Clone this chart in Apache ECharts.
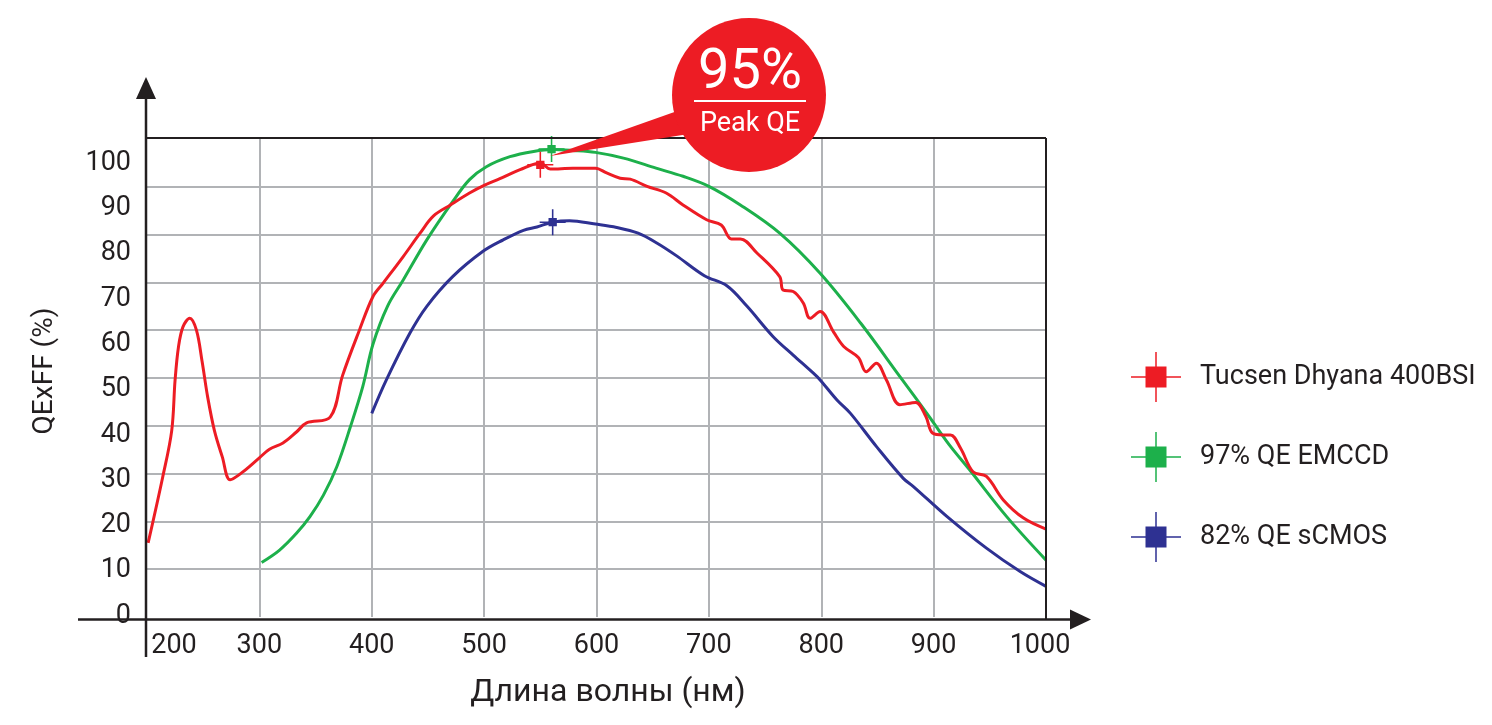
<!DOCTYPE html>
<html>
<head>
<meta charset="utf-8">
<script src="https://cdn.jsdelivr.net/npm/echarts@6/dist/echarts.min.js"></script>
<style>
  html, body { margin: 0; padding: 0; background: #fff; }
  #main { width: 1492px; height: 725px; }
</style>
</head>
<body>
<div id="main"></div>
<script>
// wavelength (nm) / QExFF (%)
var tucsenWl = [201, 214, 222, 225, 228, 232, 238, 244, 249, 254, 260, 267, 274, 285, 300, 309, 321, 333, 342, 363,
  374, 389, 401, 410, 428, 443, 455, 470, 487, 500, 514, 532, 550, 559, 579, 599, 609, 621, 630, 645,
  662, 677, 698, 711, 720, 728, 743, 763, 766, 775, 784, 790, 799, 811, 820, 833, 840, 849, 858, 870,
  884, 893, 899, 909, 915, 924, 935, 947, 962, 980, 1000];
var tucsenQe = [15.5, 29.3, 39, 49.6, 56.5, 60.7, 62.5, 60, 53.5, 46, 39, 33.5, 28.7, 30.3, 33.3, 35.1, 36.4, 38.7, 40.6, 41.8,
  50.5, 60, 67, 69.8, 75.4, 80.3, 83.9, 86.2, 88.7, 90.3, 91.7, 93.6, 95, 93.7, 93.9, 93.9, 92.9, 91.8, 91.6, 90.1,
  88.7, 86.2, 83.1, 82, 79.1, 79.1, 76.1, 71.2, 68.4, 68.1, 65.7, 62.5, 63.9, 59.6, 56.6, 54.3, 51.3, 53.1, 49.6, 44.4,
  44.9, 42, 38.5, 38.1, 38.1, 35.3, 30.4, 29.4, 24.5, 20.7, 18.4];

var emccdWl = [302, 318, 333, 345, 357, 369, 381, 392, 401, 414, 428, 449, 472, 487, 502, 523, 544, 561, 579, 599, 624,
  653, 677, 700, 728, 763, 799, 835, 870, 894, 900, 915, 932, 965, 1000];
var emccdQe = [11.4, 14, 17.5, 21, 25.5, 31.5, 39.8, 48.2, 57, 65, 70.5, 78.9, 86.9, 91.5, 94.2, 96.3, 97.4, 97.8, 97.6, 97.2, 96,
  93.9, 92.2, 90.1, 86.2, 80.3, 71.9, 61.5, 50.3, 42.6, 40.6, 35.7, 30.8, 21, 11.9];

var scmosWl = [400, 413, 434, 449, 472, 499, 517, 535, 547, 561, 576, 599, 618, 637, 654, 671, 696, 716, 734, 757,
  775, 793, 799, 814, 826, 849, 873, 882, 912, 947, 977, 1000];
var scmosQe = [42.6, 49.6, 59.4, 65, 71.2, 76.5, 78.9, 80.9, 81.6, 82.6, 82.9, 82.2, 81.5, 80.3, 78.2, 75.6, 71.4, 69.3, 65, 58.7,
  54.8, 51, 49.6, 45.4, 42.6, 35.7, 29, 27.3, 21, 14.4, 9.5, 6.4];

var seriesNames = ['Tucsen Dhyana 400BSI', '97% QE EMCCD', '82% QE sCMOS'];
var seriesColors = ['#ed1c24', '#1db04b', '#2e3192'];
var peakWl = [550, 560, 561];
var peakQe = [94.6, 97.9, 82.6];

var xTicks = [200, 300, 400, 500, 600, 700, 800, 900, 1000];
var yTicks = [0, 10, 20, 30, 40, 50, 60, 70, 80, 90, 100];

function zip(a, b) {
  return a.map(function (v, i) { return [v, b[i]]; });
}

var ink = '#231f20';
var font = 'Roboto, "DejaVu Sans", sans-serif';
var legendIcon = 'path://M0 48.5H100V51.5H0Z M48.5 0H51.5V100H48.5Z M29 29H71V71H29Z';
var peakIcon = 'path://M0 47H100V53H0Z M47 0H53V100H47Z M34 34H66V66H34Z';

var lineData = [zip(tucsenWl, tucsenQe), zip(emccdWl, emccdQe), zip(scmosWl, scmosQe)];

var chart = echarts.init(document.getElementById('main'));

chart.setOption({
  animation: false,
  backgroundColor: '#fff',
  grid: { left: 147, top: 139, width: 899, height: 478 },
  legend: {
    orient: 'vertical',
    left: 1126,
    top: 347,
    itemWidth: 50,
    itemHeight: 50,
    itemGap: 30,
    selectedMode: false,
    textStyle: { fontSize: 27, color: ink, fontFamily: font, padding: [0, 0, 0, 14] },
    data: seriesNames.map(function (n) { return { name: n, icon: legendIcon }; })
  },
  xAxis: {
    type: 'value',
    min: 200,
    max: 1000,
    interval: 100,
    axisLine: { show: false },
    axisTick: { show: false },
    splitLine: { show: true, showMinLine: false, showMaxLine: false, lineStyle: { color: '#b1b3b6', width: 2 } },
    axisLabel: {
      customValues: xTicks,
      margin: 16,
      fontSize: 27,
      color: ink,
      fontFamily: font,
      formatter: function (v) {
        if (v === 200) return '{first|200}';
        if (v === 1000) return '{last|1000}';
        return String(v);
      },
      rich: {
        first: { fontSize: 27, color: ink, fontFamily: font, padding: [0, 0, 0, 54] },
        last: { fontSize: 27, color: ink, fontFamily: font, padding: [0, 12, 0, 0] }
      }
    }
  },
  yAxis: [{
    type: 'value',
    min: 0,
    max: 100,
    interval: 10,
    axisLine: { show: false },
    axisTick: { show: false },
    axisLabel: { show: false },
    splitLine: { show: true, showMinLine: false, showMaxLine: false, lineStyle: { color: '#b1b3b6', width: 2 } }
  }, {
    // label-only axis: the printed tick labels sit a little off the grid lines
    type: 'value',
    position: 'left',
    min: -0.22,
    max: 105.3,
    axisLine: { show: false },
    axisTick: { show: false },
    splitLine: { show: false },
    axisLabel: {
      customValues: yTicks,
      margin: 16,
      fontSize: 27,
      color: ink,
      fontFamily: font
    }
  }],
  series: seriesNames.map(function (n, i) {
    return {
      name: n,
      type: 'line',
      data: lineData[i],
      smooth: 0.35,
      symbol: 'none',
      silent: true,
      color: seriesColors[i],
      lineStyle: { width: 3, color: seriesColors[i] },
      z: 3 + (2 - i),
      markPoint: {
        silent: true,
        symbol: peakIcon,
        symbolSize: 26,
        label: { show: false },
        itemStyle: { color: seriesColors[i] },
        data: [{ coord: [peakWl[i], peakQe[i]] }]
      }
    };
  }),
  graphic: [
    // frame and axes with arrows
    { type: 'line', z: 50, shape: { x1: 146, y1: 138, x2: 1046, y2: 138 }, style: { stroke: ink, lineWidth: 2 } },
    { type: 'line', z: 50, shape: { x1: 1046, y1: 138, x2: 1046, y2: 620 }, style: { stroke: ink, lineWidth: 2 } },
    { type: 'line', z: 50, shape: { x1: 78, y1: 619.5, x2: 1075, y2: 619.5 }, style: { stroke: ink, lineWidth: 2.5 } },
    { type: 'polygon', z: 50, shape: { points: [[1091, 619.5], [1070, 609.5], [1070, 629.5]] }, style: { fill: ink } },
    { type: 'line', z: 50, shape: { x1: 146, y1: 657, x2: 146, y2: 95 }, style: { stroke: ink, lineWidth: 2.5 } },
    { type: 'polygon', z: 50, shape: { points: [[146, 77], [136, 99], [156, 99]] }, style: { fill: ink } },
    // axis titles
    {
      type: 'text', z: 50, x: 608, y: 693,
      style: { text: 'Длина волны (нм)', fontSize: 32, fontFamily: font, fill: ink, align: 'center', verticalAlign: 'middle' }
    },
    {
      type: 'text', z: 50, x: 45, y: 371, rotation: Math.PI / 2,
      style: { text: 'QExFF (%)', fontSize: 28, fontFamily: font, fill: ink, align: 'center', verticalAlign: 'middle' }
    },
    // peak QE callout
    { type: 'polygon', z: 60, shape: { points: [[550, 156], [714, 98], [714, 130]] }, style: { fill: '#ed1c24' } },
    { type: 'circle', z: 60, shape: { cx: 749, cy: 95, r: 77 }, style: { fill: '#ed1c24' } },
    {
      type: 'text', z: 61, x: 750, y: 74,
      style: { text: '95%', fontSize: 56, fontFamily: font, fill: '#fff', align: 'center', verticalAlign: 'middle' }
    },
    { type: 'line', z: 61, shape: { x1: 694, y1: 101, x2: 806, y2: 101 }, style: { stroke: '#fff', lineWidth: 2 } },
    {
      type: 'text', z: 61, x: 750, y: 124,
      style: { text: 'Peak QE', fontSize: 27, fontFamily: font, fill: '#fff', align: 'center', verticalAlign: 'middle' }
    }
  ]
});
</script>
</body>
</html>
